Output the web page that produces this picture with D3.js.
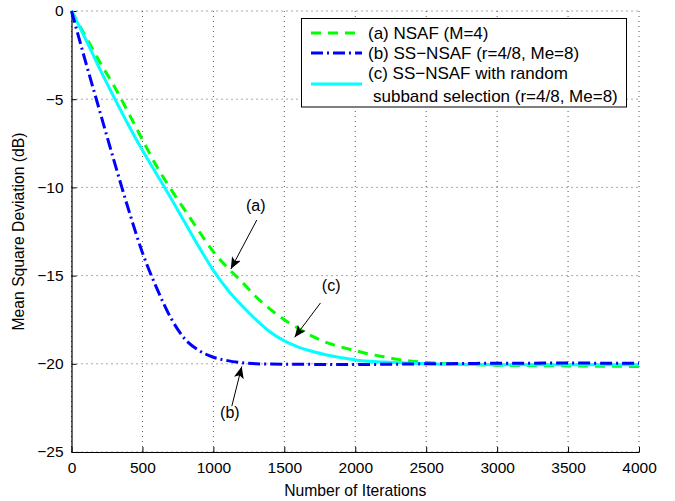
<!DOCTYPE html>
<html>
<head>
<meta charset="utf-8">
<script src="https://cdn.jsdelivr.net/npm/d3@7"></script>
<style>
  body { margin: 0; background: #fff; }
  text { font-family: "Liberation Sans", Arial, sans-serif; }
</style>
</head>
<body>
<div id="chart"></div>
<script>
// iterations sampled from the figure
const itersA = [0, 100, 200, 300, 400, 500, 600, 700, 800, 900, 1000, 1100, 1200, 1300, 1400, 1500, 1600, 1700, 1800, 1900, 2000, 2100, 2200, 2300, 2400, 2500, 2700, 3000, 3500, 4000];
const msdA = [0, -1.45, -2.9, -4.25, -5.75, -7.3, -8.8, -10.1, -11.3, -12.5, -13.65, -14.55, -15.35, -16.2, -16.9, -17.5, -18.0, -18.45, -18.8, -19.05, -19.25, -19.45, -19.6, -19.75, -19.85, -19.92, -20.02, -20.08, -20.12, -20.15];

const itersB = [0, 100, 200, 300, 400, 500, 600, 700, 800, 900, 1000, 1100, 1200, 1300, 1500, 2000, 2500, 3000, 3500, 4000];
const msdB = [0, -2.9, -5.7, -8.5, -11.2, -13.7, -15.7, -17.4, -18.6, -19.25, -19.63, -19.82, -19.94, -20.0, -20.02, -20.04, -20.0, -19.97, -19.96, -19.97];

const itersC = [0, 100, 200, 300, 400, 500, 600, 700, 800, 900, 1000, 1100, 1200, 1300, 1400, 1500, 1600, 1700, 1800, 1900, 2000, 2200, 2400, 2600, 3000, 3500, 4000];
const msdC = [0, -1.6, -3.3, -4.9, -6.45, -7.9, -9.25, -10.6, -12.0, -13.4, -14.7, -15.8, -16.7, -17.5, -18.2, -18.7, -19.05, -19.3, -19.5, -19.65, -19.78, -19.9, -19.97, -20.02, -20.05, -20.06, -20.06];

const xTicks = [0, 500, 1000, 1500, 2000, 2500, 3000, 3500, 4000];
const yTicks = [0, -5, -10, -15, -20, -25];

const legendLabels = ["(a) NSAF (M=4)", "(b) SS\u2212NSAF (r=4/8, Me=8)", "(c) SS\u2212NSAF with random", "subband selection (r=4/8, Me=8)"];

// annotations: label position, arrow tail, arrow tip (data units)
const notes = [
  { text: "(a)", label: [1299, -11.35], tail: [1306, -11.85], tip: [1123, -14.63] },
  { text: "(c)", label: [1830, -15.9], tail: [1755, -16.55], tip: [1573, -18.5] },
  { text: "(b)", label: [1116, -23.05], tail: [1130, -22.4], tip: [1200, -20.15] }
];

const width = 675, height = 501;
const margin = { top: 11, right: 36, bottom: 49, left: 71.5 };
const w = width - margin.left - margin.right;
const h = height - margin.top - margin.bottom;

const svg = d3.select("#chart").append("svg")
  .attr("width", width).attr("height", height);

const defs = svg.append("defs");
defs.append("marker")
  .attr("id", "head")
  .attr("viewBox", "0 0 12 10")
  .attr("refX", 12).attr("refY", 5)
  .attr("markerWidth", 12).attr("markerHeight", 10)
  .attr("markerUnits", "userSpaceOnUse")
  .attr("orient", "auto")
  .append("path")
  .attr("d", "M0,0 L12,5 L0,10 L3,5 Z")
  .attr("fill", "#000");

const g = svg.append("g").attr("transform", `translate(${margin.left},${margin.top})`);

const x = d3.scaleLinear().domain([0, 4000]).range([0, w]);
const y = d3.scaleLinear().domain([-25, 0]).range([h, 0]);

// grid
g.append("g").selectAll("line").data(xTicks).enter().append("line")
  .attr("x1", d => x(d)).attr("x2", d => x(d))
  .attr("y1", 0).attr("y2", h)
  .attr("stroke", "#555").attr("stroke-width", 1).attr("stroke-dasharray", "1,4");
g.append("g").selectAll("line").data(yTicks).enter().append("line")
  .attr("y1", d => y(d)).attr("y2", d => y(d))
  .attr("x1", 0).attr("x2", w)
  .attr("stroke", "#555").attr("stroke-width", 1).attr("stroke-dasharray", "1,4");

// axes (ticks inward)
const xAxis = g.append("g")
  .attr("transform", `translate(0,${h})`)
  .call(d3.axisBottom(x).tickValues(xTicks).tickSizeInner(-5).tickSizeOuter(0).tickPadding(8)
    .tickFormat(d3.format("d")));
const yAxis = g.append("g")
  .call(d3.axisLeft(y).tickValues(yTicks).tickSizeInner(-5).tickSizeOuter(0).tickPadding(8)
    .tickFormat(d => d < 0 ? "\u2212" + Math.abs(d) : d));

[xAxis, yAxis].forEach(a => {
  a.attr("font-size", null).attr("font-family", null);
  a.select(".domain").attr("stroke", "#000").attr("stroke-width", 1.2);
  a.selectAll(".tick line").attr("stroke", "#000");
  a.selectAll("text").style("font-size", "15.5px").attr("fill", "#000");
});
xAxis.selectAll("text").attr("dy", "0.85em");

// curves
const line = d3.line()
  .x(d => x(d[0])).y(d => y(d[1]))
  .curve(d3.curveMonotoneX);

const series = [
  { it: itersA, v: msdA, color: "#00ff00", dash: "10,7" },
  { it: itersC, v: msdC, color: "#00ffff", dash: null },
  { it: itersB, v: msdB, color: "#0000ff", dash: "12,4,2,4" }
];

series.forEach(s => {
  g.append("path")
    .datum(s.it.map((d, i) => [d, s.v[i]]))
    .attr("d", line)
    .attr("fill", "none")
    .attr("stroke", s.color)
    .attr("stroke-width", 3)
    .attr("stroke-dasharray", s.dash);
});

// annotations
notes.forEach(n => {
  g.append("line")
    .attr("x1", x(n.tail[0])).attr("y1", y(n.tail[1]))
    .attr("x2", x(n.tip[0])).attr("y2", y(n.tip[1]))
    .attr("stroke", "#000").attr("stroke-width", 1)
    .attr("marker-end", "url(#head)");
  g.append("text")
    .attr("x", x(n.label[0])).attr("y", y(n.label[1]))
    .attr("text-anchor", "middle")
    .style("font-size", "16px")
    .text(n.text);
});

// legend
const leg = svg.append("g");
leg.append("rect")
  .attr("x", 301.5).attr("y", 18.5).attr("width", 325).attr("height", 88.5)
  .attr("fill", "#fff").attr("stroke", "#000").attr("stroke-width", 1);

const legRows = [
  { color: "#00ff00", dash: "10,7", ly: 33, texts: [[legendLabels[0], 33]] },
  { color: "#0000ff", dash: "12,4,2,4", ly: 53, texts: [[legendLabels[1], 53]] },
  { color: "#00ffff", dash: null, ly: 84, texts: [[legendLabels[2], 73], [legendLabels[3], 96]] }
];
legRows.forEach(r => {
  leg.append("line")
    .attr("x1", 311).attr("x2", 362).attr("y1", r.ly).attr("y2", r.ly)
    .attr("stroke", r.color).attr("stroke-width", 3)
    .attr("stroke-dasharray", r.dash);
  r.texts.forEach((t, i) => {
    leg.append("text")
      .attr("x", i === 0 ? 368 : 373).attr("y", t[1])
      .attr("dy", "0.36em")
      .style("font-size", "17px")
      .text(t[0]);
  });
});

// axis titles
svg.append("text")
  .attr("x", margin.left + w / 2).attr("y", 496)
  .attr("text-anchor", "middle").style("font-size", "15.7px")
  .text("Number of Iterations");
svg.append("text")
  .attr("transform", `translate(24,${margin.top + h / 2}) rotate(-90)`)
  .attr("text-anchor", "middle").style("font-size", "15.7px")
  .text("Mean Square Deviation (dB)");
</script>
</body>
</html>
